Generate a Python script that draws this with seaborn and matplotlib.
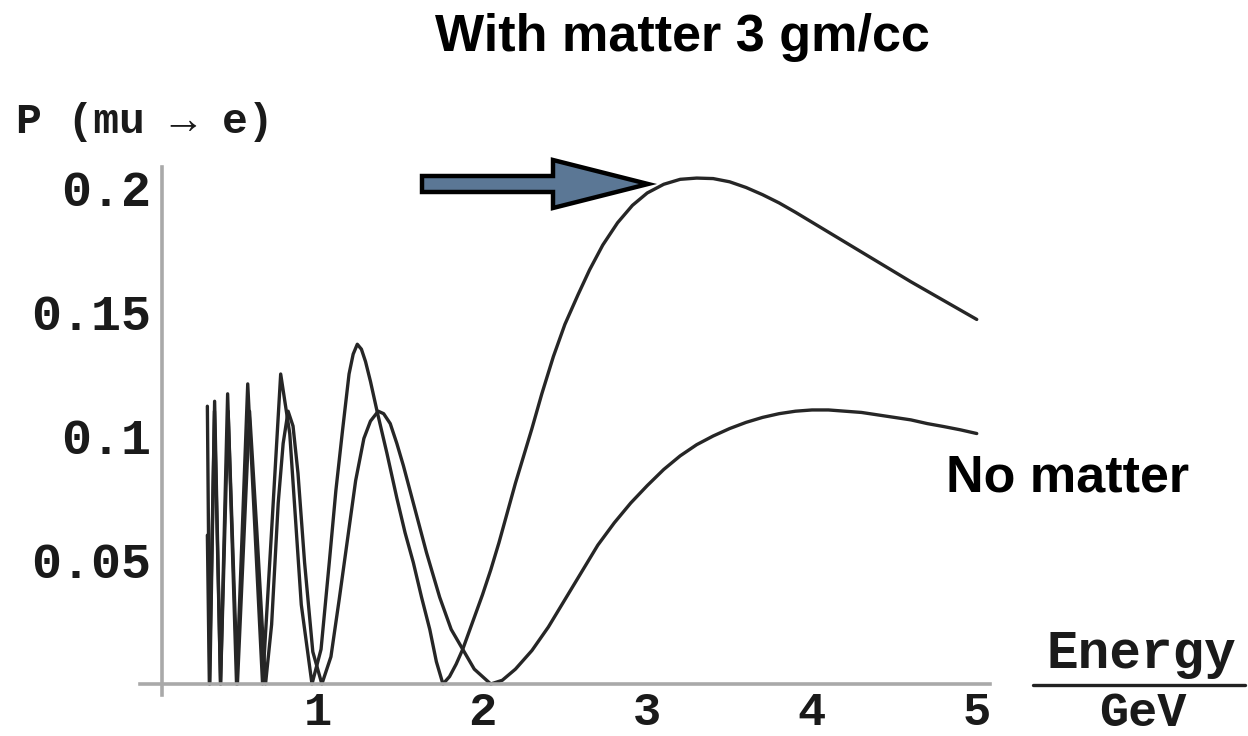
import matplotlib
matplotlib.use("Agg")
import matplotlib.pyplot as plt
from matplotlib.ticker import MultipleLocator, FixedLocator, FixedFormatter
from matplotlib.patches import Polygon
from matplotlib.lines import Line2D
import pandas as pd
import seaborn as sns

# ---- data ----
energy_matter = [0.33, 0.345, 0.374, 0.41, 0.453, 0.507, 0.575, 0.665, 0.72, 0.775,
                 0.83, 0.90, 0.965, 1.02, 1.07, 1.11, 1.15, 1.19, 1.215, 1.24,
                 1.265, 1.29, 1.32, 1.36, 1.42, 1.48, 1.53, 1.58, 1.63, 1.68,
                 1.72, 1.76, 1.80, 1.84, 1.88, 1.94, 2.0, 2.05, 2.1, 2.15,
                 2.2, 2.25, 2.3, 2.36, 2.43, 2.5, 2.58, 2.65, 2.73, 2.82,
                 2.91, 3.0, 3.1, 3.2, 3.3, 3.4, 3.5, 3.6, 3.7, 3.8,
                 3.9, 4.0, 4.1, 4.2, 4.3, 4.4, 4.5, 4.6, 4.7, 4.8,
                 4.9, 5.0]
p_matter = [0.112, 0.0, 0.114, 0.0, 0.117, 0.0, 0.121, 0.0, 0.062, 0.125,
            0.101, 0.032, 0.0, 0.014, 0.049, 0.078, 0.102, 0.125, 0.133, 0.137,
            0.135, 0.130, 0.122, 0.110, 0.093, 0.075, 0.061, 0.049, 0.035, 0.022,
            0.009, 0.0, 0.003, 0.008, 0.014, 0.025, 0.036, 0.046, 0.057, 0.069,
            0.081, 0.092, 0.103, 0.117, 0.132, 0.145, 0.157, 0.167, 0.177, 0.186,
            0.193, 0.198, 0.2015, 0.2035, 0.204, 0.2038, 0.2025, 0.2002, 0.1973, 0.194,
            0.1902, 0.1862, 0.1822, 0.1782, 0.1742, 0.1702, 0.1662, 0.1622, 0.1584, 0.1546,
            0.1508, 0.147]

energy_vacuum = [0.33, 0.342, 0.373, 0.41, 0.456, 0.5125, 0.586, 0.63, 0.683, 0.72,
                 0.76, 0.79, 0.82, 0.85, 0.88, 0.92, 0.97, 1.025, 1.08, 1.13,
                 1.18, 1.23, 1.28, 1.32, 1.367, 1.40, 1.44, 1.48, 1.52, 1.58,
                 1.66, 1.74, 1.81, 1.88, 1.95, 2.05, 2.12, 2.2, 2.3, 2.4,
                 2.5, 2.6, 2.7, 2.8, 2.9, 3.0, 3.1, 3.2, 3.3, 3.4,
                 3.5, 3.6, 3.7, 3.8, 3.9, 4.0, 4.1, 4.2, 4.3, 4.4,
                 4.5, 4.6, 4.7, 4.8, 4.9, 5.0]
p_vacuum = [0.06, 0.0, 0.11, 0.0, 0.11, 0.0, 0.11, 0.062, 0.0, 0.024,
            0.073, 0.097, 0.11, 0.104, 0.085, 0.049, 0.013, 0.0, 0.011, 0.034,
            0.058, 0.082, 0.099, 0.106, 0.110, 0.109, 0.105, 0.097, 0.088, 0.073,
            0.053, 0.035, 0.022, 0.014, 0.006, 0.0, 0.0015, 0.006, 0.0135, 0.023,
            0.034, 0.045, 0.056, 0.065, 0.073, 0.080, 0.0865, 0.092, 0.0965, 0.100,
            0.103, 0.1055, 0.1075, 0.109, 0.110, 0.1105, 0.1105, 0.110, 0.1095, 0.1085,
            0.1075, 0.1065, 0.105, 0.1038, 0.1025, 0.101]

x_ticks = [1, 2, 3, 4, 5]
x_tick_labels = ["1", "2", "3", "4", "5"]
y_ticks = [0.05, 0.1, 0.15, 0.2]
y_tick_labels = ["0.05", "0.1", "0.15", "0.2"]

title_text = "With matter 3 gm/cc"
ylabel_text = "P (mu \u2192 e)"
xlabel_top = "Energy"
xlabel_bottom = "GeV"
annotation_text = "No matter"

# ---- styling ----
sns.set_style("white")
plt.rcParams["font.family"] = ["Liberation Mono", "DejaVu Sans Mono"]

W, H = 1248, 736
fig = plt.figure(figsize=(W / 100, H / 100), dpi=100)


def fx(px):
    return px / W


def fy(py):
    return 1 - py / H


ax = fig.add_axes([fx(140), fy(695), fx(990) - fx(140), fy(167) - fy(695)])

df_m = pd.DataFrame({"Energy": energy_matter, "P": p_matter})
df_v = pd.DataFrame({"Energy": energy_vacuum, "P": p_vacuum})
line_color = "#262626"
sns.lineplot(data=df_m, x="Energy", y="P", ax=ax, color=line_color, lw=2.4,
             estimator=None, sort=False)
sns.lineplot(data=df_v, x="Energy", y="P", ax=ax, color=line_color, lw=2.4,
             estimator=None, sort=False)

ax.set_xlim((140 - 153) / 164.75, (990 - 153) / 164.75)
ax.set_ylim((684 - 695) / 2480, (684 - 167) / 2480)

for s in ["top", "right"]:
    ax.spines[s].set_visible(False)
ax.spines["left"].set_position(("data", 0.055))
ax.spines["bottom"].set_position(("data", 0.0))
for s in ["left", "bottom"]:
    ax.spines[s].set_color("#a9a9a9")
    ax.spines[s].set_linewidth(2.6)

ax.xaxis.set_major_locator(FixedLocator(x_ticks))
ax.xaxis.set_major_formatter(FixedFormatter(x_tick_labels))
ax.yaxis.set_major_locator(FixedLocator(y_ticks))
ax.yaxis.set_major_formatter(FixedFormatter(y_tick_labels))
ax.xaxis.set_minor_locator(MultipleLocator(0.2))
ax.yaxis.set_minor_locator(MultipleLocator(0.01))
ax.tick_params(which="both", direction="in", color="#9a9a9a", width=1.2)
ax.tick_params(which="major", length=8)
ax.tick_params(which="minor", length=4)
ax.tick_params(axis="y", which="major", pad=8, labelsize=36, labelcolor="#1a1a1a")
ax.tick_params(axis="x", which="major", pad=5, labelsize=34, labelcolor="#1a1a1a")
for lab in ax.get_xticklabels() + ax.get_yticklabels():
    lab.set_fontweight("bold")
ax.set_xlabel("")
ax.set_ylabel("")
ax.patch.set_alpha(0)

# Title and labels
fig.text(fx(682), fy(38), title_text, ha="center", va="center", fontsize=37.5,
         fontweight="bold", family=["Liberation Sans", "DejaVu Sans"], color="black")
fig.text(fx(1068), fy(478), annotation_text, ha="center", va="center", fontsize=37.5,
         fontweight="bold", family=["Liberation Sans", "DejaVu Sans"], color="black")
fig.text(fx(16), fy(133), ylabel_text, ha="left", va="baseline", fontsize=31,
         fontweight="bold", color="#1a1a1a")
fig.text(fx(1141), fy(668), xlabel_top, ha="center", va="baseline", fontsize=38,
         fontweight="bold", color="#1a1a1a")
fig.text(fx(1143), fy(726), xlabel_bottom, ha="center", va="baseline", fontsize=35,
         fontweight="bold", color="#1a1a1a")
fig.add_artist(Line2D([fx(1033), fx(1245)], [fy(685), fy(685)], color="#222222",
                      lw=2.4, transform=fig.transFigure))

# Arrow pointing at the matter peak
arrow_px = [(422, 176), (553, 176), (553, 160), (648, 184), (553, 208), (553, 192), (422, 192)]
arrow = Polygon([(fx(x), fy(y)) for x, y in arrow_px], closed=True,
                facecolor="#5b7795", edgecolor="black", lw=3.2,
                transform=fig.transFigure, joinstyle="miter")
fig.add_artist(arrow)

fig.savefig("out.png", dpi=100)
